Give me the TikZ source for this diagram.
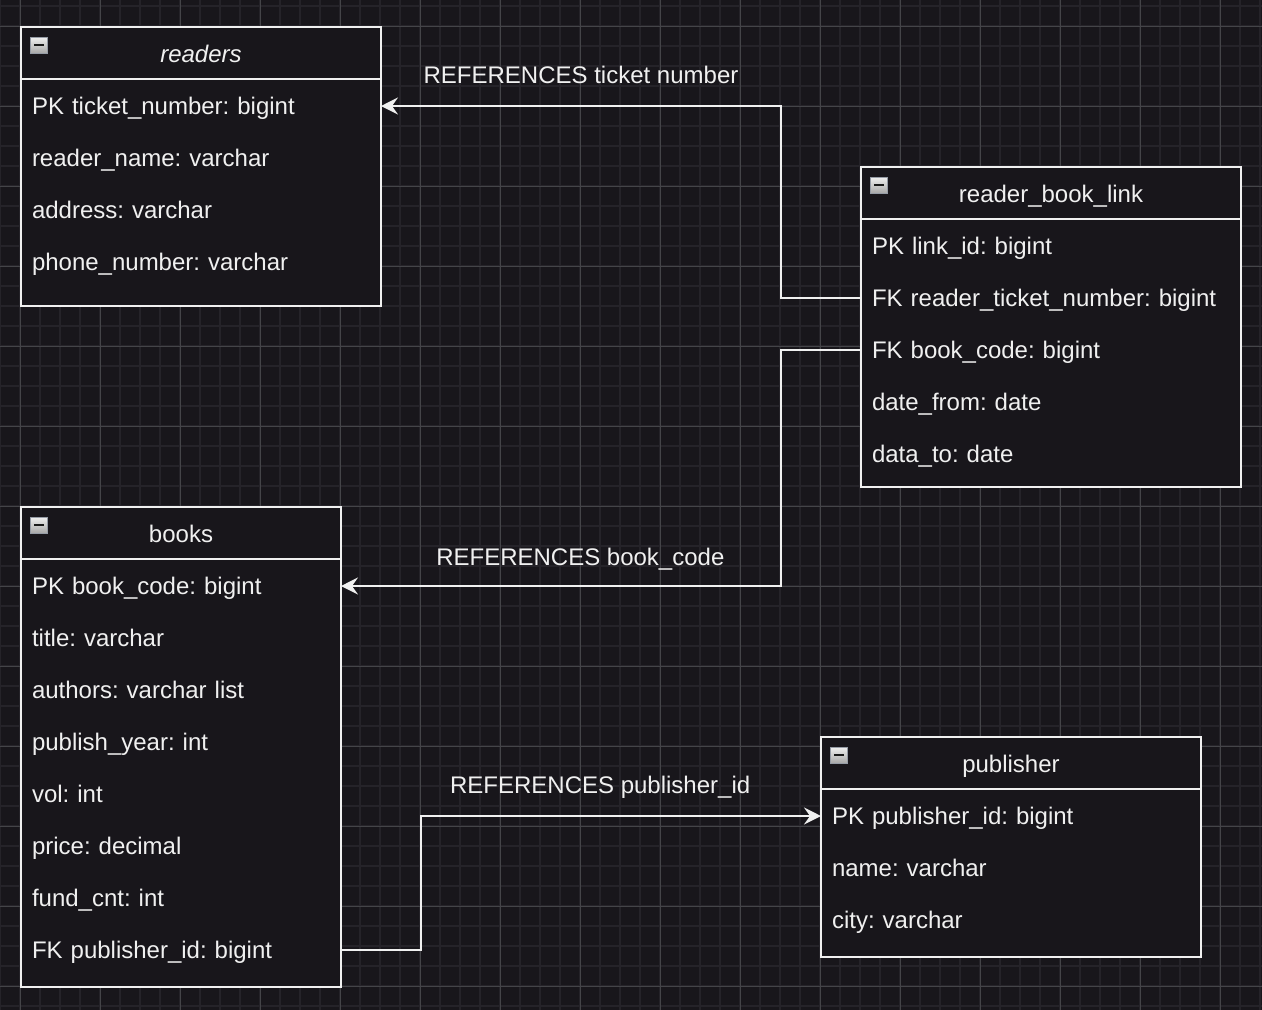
\documentclass[tikz,border=0pt]{standalone}
\usepackage{fontspec}
\setmainfont{Liberation Sans}
\usepackage{tikz}
\usetikzlibrary{
    positioning,
    arrows.meta,
    calc
}
\definecolor{canvasDark}{RGB}{24, 22, 27}
\definecolor{gridFine}{RGB}{37, 35, 41}
\definecolor{gridBold}{RGB}{68, 68, 72}
\definecolor{inkWhite}{RGB}{240, 240, 240}
\definecolor{iconEdge}{RGB}{150, 156, 166}
\frenchspacing

\begin{document}
\begin{tikzpicture}[x=1pt, y=-1pt, >={Stealth[length=17pt, width=17pt, inset=6pt]},
    every node/.style={font=\fontsize{24}{29}\selectfont, text=inkWhite},
    tbl/.style={draw=inkWhite, line width=2pt, fill=canvasDark, anchor=north west, inner sep=0pt, outer sep=0pt},
    field/.style={anchor=north west, text width=#1, minimum height=52pt, inner xsep=11pt, inner ysep=0pt, outer sep=0pt, align=left, text height=21pt, text depth=4pt},
    heading/.style={text height=21pt, text depth=4pt},
    minus/.style={draw=iconEdge, line width=1pt, top color=white!94!black, bottom color=white!66!black, minimum width=17pt, minimum height=16pt, inner sep=0pt, outer sep=0pt,
        path picture={\draw[black!90, line width=2pt] ($(path picture bounding box.west)+(3.5,0)$) -- ($(path picture bounding box.east)+(-3.5,0)$);}},
    sep/.style={draw=inkWhite, line width=2pt},
    link/.style={->, draw=inkWhite, line width=2pt},
    linklabel/.style={anchor=center, yshift=#1}
]
            \useasboundingbox (0,0) rectangle (1262,1010);

            % Canvas and grid
            \fill[canvasDark] (0,0) rectangle (1262,1010);
            \foreach \gx in {0,20,...,1260} \draw[gridFine, line width=2pt] (\gx,0) -- (\gx,1010);
            \foreach \gy in {6,26,...,1006} \draw[gridFine, line width=2pt] (0,\gy) -- (1262,\gy);
            \foreach \gx in {20,100,...,1220} \draw[gridBold, line width=1pt] (\gx,0) -- (\gx,1010);
            \foreach \gy in {26,106,...,986} \draw[gridBold, line width=1pt] (0,\gy) -- (1262,\gy);

            % readers
            \node[tbl, minimum width=360pt, minimum height=279pt] (readers) at (21,27) {};
            \draw[sep] ($(readers.north west)+(0,52)$) -- ($(readers.north east)+(0,52)$);
            \node[minus] (readersIcon) at ($(readers.north west)+(18,18)$) {};
            \node[heading] (readersTitle) at ($(readers.north)+(0,27)$) {\textit{readers}};
            \node[field=338pt] (readersF1) at ($(readers.north west)+(0,53)$) {PK ticket\_number: bigint};
            \node[field=338pt, below=0pt of readersF1] (readersF2) {reader\_name: varchar};
            \node[field=338pt, below=0pt of readersF2] (readersF3) {address: varchar};
            \node[field=338pt, below=0pt of readersF3] (readersF4) {phone\_number: varchar};

            % reader_book_link
            \node[tbl, minimum width=380pt, minimum height=320pt] (rbl) at (861,167) {};
            \draw[sep] ($(rbl.north west)+(0,52)$) -- ($(rbl.north east)+(0,52)$);
            \node[minus] (rblIcon) at ($(rbl.north west)+(18,18)$) {};
            \node[heading] (rblTitle) at ($(rbl.north)+(0,27)$) {reader\_book\_link};
            \node[field=358pt] (rblF1) at ($(rbl.north west)+(0,53)$) {PK link\_id: bigint};
            \node[field=358pt, below=0pt of rblF1] (rblF2) {FK reader\_ticket\_number: bigint};
            \node[field=358pt, below=0pt of rblF2] (rblF3) {FK book\_code: bigint};
            \node[field=358pt, below=0pt of rblF3] (rblF4) {date\_from: date};
            \node[field=358pt, below=0pt of rblF4] (rblF5) {data\_to: date};

            % books
            \node[tbl, minimum width=320pt, minimum height=480pt] (books) at (21,507) {};
            \draw[sep] ($(books.north west)+(0,52)$) -- ($(books.north east)+(0,52)$);
            \node[minus] (booksIcon) at ($(books.north west)+(18,18)$) {};
            \node[heading] (booksTitle) at ($(books.north)+(0,27)$) {books};
            \node[field=298pt] (booksF1) at ($(books.north west)+(0,53)$) {PK book\_code: bigint};
            \node[field=298pt, below=0pt of booksF1] (booksF2) {title: varchar};
            \node[field=298pt, below=0pt of booksF2] (booksF3) {authors: varchar list};
            \node[field=298pt, below=0pt of booksF3] (booksF4) {publish\_year: int};
            \node[field=298pt, below=0pt of booksF4] (booksF5) {vol: int};
            \node[field=298pt, below=0pt of booksF5] (booksF6) {price: decimal};
            \node[field=298pt, below=0pt of booksF6] (booksF7) {fund\_cnt: int};
            \node[field=298pt, below=0pt of booksF7] (booksF8) {FK publisher\_id: bigint};

            % publisher
            \node[tbl, minimum width=380pt, minimum height=220pt] (pub) at (821,737) {};
            \draw[sep] ($(pub.north west)+(0,52)$) -- ($(pub.north east)+(0,52)$);
            \node[minus] (pubIcon) at ($(pub.north west)+(18,18)$) {};
            \node[heading] (pubTitle) at ($(pub.north)+(0,27)$) {publisher};
            \node[field=358pt] (pubF1) at ($(pub.north west)+(0,53)$) {PK publisher\_id: bigint};
            \node[field=358pt, below=0pt of pubF1] (pubF2) {name: varchar};
            \node[field=358pt, below=0pt of pubF2] (pubF3) {city: varchar};

            % References
            \draw[link] (rblF2.west) -- ++(-80,0) |- (readersF1.east) node[linklabel=31pt, pos=0.75] {REFERENCES ticket number};
            \draw[link] (rblF3.west) -- ++(-80,0) |- (booksF1.east) node[linklabel=27pt, pos=0.728] {REFERENCES book\_code};
            \draw[link] (booksF8.east) -- ++(80,0) |- (pubF1.west) node[linklabel=29pt, pos=0.724] {REFERENCES publisher\_id};
        \end{tikzpicture}
\end{document}
